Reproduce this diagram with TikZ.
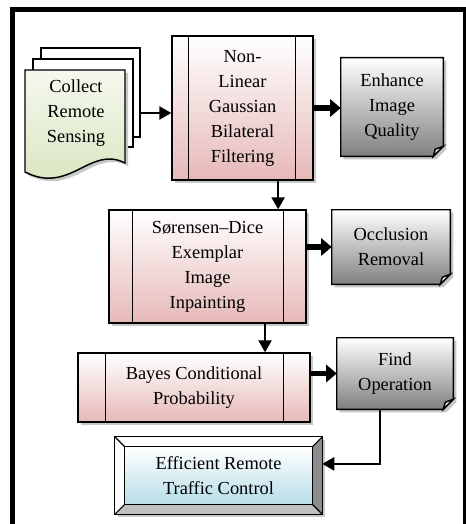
\documentclass[tikz,border=0pt]{standalone}
\usepackage{fontspec}
\setmainfont{Liberation Serif}
\usetikzlibrary{arrows.meta,calc,shadows}
\pgfdeclarelayer{background}
\pgfsetlayers{background,main}
\definecolor{pinkb}{HTML}{E6B9B8}
\definecolor{greenb}{HTML}{D7E4BD}
\definecolor{grayb}{HTML}{808080}
\definecolor{blueb}{HTML}{B7DEE8}
\definecolor{shadowc}{HTML}{C8C8C8}
\definecolor{bevelr}{HTML}{8C8C8C}
\definecolor{bevelb}{HTML}{C0C0C0}
\newcommand{\FoldShape}[1]{%
  \begin{pgfonlayer}{background}
  \fill[shadowc] ($(#1.north west)+(3,3)$) -- ($(#1.north east)+(3,3)$) -- ($(#1.south east)+(3,-7)$) -- ($(#1.south east)+(-7,3)$) -- ($(#1.south west)+(3,3)$) -- cycle;
  \path[draw, line width=1.1pt, top color=white, bottom color=grayb] (#1.north west) -- (#1.north east) -- ($(#1.south east)+(0,-10)$) -- ($(#1.south east)+(-10,0)$) -- (#1.south west) -- cycle;
  \draw[line width=1.1pt, fill=white!85!grayb] ($(#1.south east)+(0,-10)$) -- ($(#1.south east)+(-10,0)$) -- ($(#1.south east)+(-8,-7)$) -- cycle;
  \end{pgfonlayer}}
\newcommand{\ProcLines}[3]{%
  \draw[line width=1.1pt] ($(#1.north west)+(#2,0)$) -- ($(#1.south west)+(#2,0)$);
  \draw[line width=1.1pt] ($(#1.north east)+(-#3,0)$) -- ($(#1.south east)+(-#3,0)$);}
\begin{document}
\begin{tikzpicture}[x=0.75pt,y=-0.75pt,
  txt/.style={font=\fontsize{13.8}{18.75}\selectfont, align=center, inner sep=0pt},
  proc/.style={txt, draw, line width=1.1pt, top color=white, bottom color=pinkb,
    drop shadow={shadow xshift=2.25pt, shadow yshift=-2.25pt, fill=shadowc, opacity=1}},
  docback/.style={draw, line width=1.1pt, fill=white},
  arr/.style={line width=1.1pt, -{Triangle[length=9pt,width=10pt]}},
  bigarr/.style={line width=4pt, -{Triangle[length=8pt,width=13pt]}}]
\useasboundingbox (0,0) rectangle (466,524);
\begin{pgfonlayer}{background}
\fill[white] (0,0) rectangle (466,524);
\end{pgfonlayer}
\draw[line width=3.75pt] (12.5,10) rectangle (465,545);

% multi-document
\node[docback, minimum width=99*0.75pt, minimum height=89*0.75pt] (collect3) at (90.5,92.5) {};
\node[docback, minimum width=100*0.75pt, minimum height=88*0.75pt] (collect2) at (83,103) {};
\fill[shadowc] (28,73) -- (128,73) -- (128,166) .. controls (93,148) and (73,198) .. (28,175) -- cycle;
\path[draw, line width=1.1pt, top color=greenb!25, bottom color=greenb] (25,70) -- (125,70) -- (125,163) .. controls (90,145) and (70,195) .. (25,172) -- cycle;
\node[txt] (collect) at (76,113) {Collect\\Remote\\Sensing};

% process boxes
\node[proc, minimum width=141*0.75pt, minimum height=144*0.75pt] (filter) at (242.5,108) {Non-\\Linear\\Gaussian\\Bilateral\\Filtering};
\ProcLines{filter}{17}{18}
\node[proc, minimum width=197*0.75pt, minimum height=113*0.75pt] (sor) at (207.5,266.5) {Sørensen–Dice\\Exemplar\\Image\\Inpainting};
\ProcLines{sor}{24}{23}
\node[proc, minimum width=232*0.75pt, minimum height=69*0.75pt] (bayes) at (194,387.5) {Bayes Conditional\\Probability};
\ProcLines{bayes}{28}{27}

% folded corner boxes
\node[txt, minimum width=102*0.75pt, minimum height=98*0.75pt] (enh) at (392,107) {Enhance\\Image\\Quality};
\FoldShape{enh}
\node[txt, minimum width=118*0.75pt, minimum height=74*0.75pt] (occ) at (391,247) {Occlusion\\Removal};
\FoldShape{occ}
\node[txt, minimum width=116*0.75pt, minimum height=71*0.75pt] (find) at (395,373.5) {Find\\Operation};
\FoldShape{find}

% bevel box
\node[txt, minimum width=207*0.75pt, minimum height=77*0.75pt] (eff) at (218.5,475.5) {Efficient Remote\\Traffic Control};
\begin{pgfonlayer}{background}
\fill[shadowc] ($(eff.north west)+(3,3)$) rectangle ($(eff.south east)+(3,3)$);
\fill[white] (eff.north west) rectangle (eff.south east);
\fill[bevelr] (eff.north east) -- (eff.south east) -- ($(eff.south east)+(-10,-10)$) -- ($(eff.north east)+(-10,10)$) -- cycle;
\fill[bevelb] (eff.south west) -- (eff.south east) -- ($(eff.south east)+(-10,-10)$) -- ($(eff.south west)+(10,-10)$) -- cycle;
\path[draw, line width=1.1pt, top color=white, bottom color=blueb] ($(eff.north west)+(10,10)$) rectangle ($(eff.south east)+(-10,-10)$);
\draw[line width=1.1pt] (eff.north west) rectangle (eff.south east);
\draw[line width=0.8pt] (eff.north west) -- ($(eff.north west)+(10,10)$);
\draw[line width=0.8pt] (eff.north east) -- ($(eff.north east)+(-10,10)$);
\draw[line width=0.8pt] (eff.south west) -- ($(eff.south west)+(10,-10)$);
\draw[line width=0.8pt] (eff.south east) -- ($(eff.south east)+(-10,-10)$);
\end{pgfonlayer}

% connectors
\draw[arr] (collect.east -| collect3.east) -- (collect.east -| filter.west);
\draw[bigarr] (filter.east) -- (filter.east -| enh.west);
\coordinate (f75) at ($(filter.south west)!0.75!(filter.south east)$);
\draw[arr] (f75) -- (f75 |- sor.north);
\draw[bigarr] (occ.west -| sor.east) -- (occ.west);
\coordinate (s79) at ($(sor.south west)!0.79!(sor.south east)$);
\draw[arr] (s79) -- (s79 |- bayes.north);
\draw[bigarr] (find.west -| bayes.east) -- (find.west);
\coordinate (fd) at ($(find.south west)!0.37!(find.south east)$);
\coordinate (ein) at ($(eff.north east)!0.35!(eff.south east)$);
\draw[arr] (fd) |- (ein);
\end{tikzpicture}
\end{document}
